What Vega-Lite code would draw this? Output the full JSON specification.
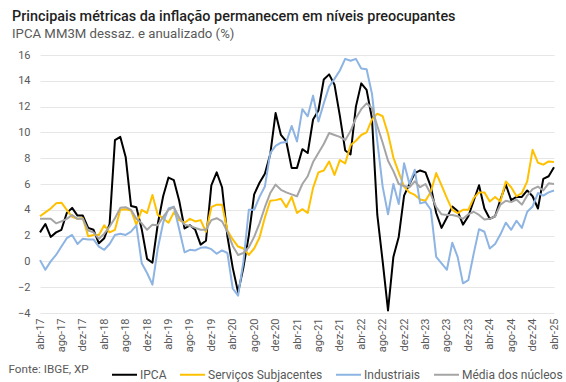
{
  "$schema": "https://vega.github.io/schema/vega-lite/v6.json",
  "width": 514,
  "height": 258,
  "autosize": {"type": "none"},
  "padding": {"left": 40, "top": 55, "right": 12, "bottom": 69},
  "background": "white",
  "config": {"view": {"stroke": null}},
  "title": {
    "text": "Principais métricas da inflação permanecem em níveis preocupantes",
    "subtitle": "IPCA MM3M dessaz. e anualizado (%)",
    "anchor": "start",
    "frame": "group",
    "dx": -28,
    "offset": 8,
    "font": "Roboto",
    "fontSize": 14.4,
    "fontWeight": 500,
    "color": "#1f1f1f",
    "subtitleFont": "Roboto",
    "subtitleFontSize": 13.2,
    "subtitleColor": "#595959",
    "subtitlePadding": 3
  },
  "data": {
    "values": [
      {"m": "abr-17", "IPCA": 2.25, "Serviços Subjacentes": 3.5, "Industriais": 0.1, "Média dos núcleos": 3.3},
      {"m": "mai-17", "IPCA": 2.9, "Serviços Subjacentes": 3.8, "Industriais": -0.65, "Média dos núcleos": 3.3},
      {"m": "jun-17", "IPCA": 1.9, "Serviços Subjacentes": 4.1, "Industriais": 0.0, "Média dos núcleos": 3.3},
      {"m": "jul-17", "IPCA": 2.25, "Serviços Subjacentes": 4.5, "Industriais": 0.5, "Média dos núcleos": 2.95},
      {"m": "ago-17", "IPCA": 2.45, "Serviços Subjacentes": 4.55, "Industriais": 1.15, "Média dos núcleos": 3.1},
      {"m": "set-17", "IPCA": 3.75, "Serviços Subjacentes": 4.0, "Industriais": 1.8, "Média dos núcleos": 3.3},
      {"m": "out-17", "IPCA": 4.15, "Serviços Subjacentes": 3.45, "Industriais": 2.05, "Média dos núcleos": 3.6},
      {"m": "nov-17", "IPCA": 3.55, "Serviços Subjacentes": 3.3, "Industriais": 1.35, "Média dos núcleos": 3.3},
      {"m": "dez-17", "IPCA": 3.55, "Serviços Subjacentes": 3.35, "Industriais": 1.75, "Média dos núcleos": 3.3},
      {"m": "jan-18", "IPCA": 2.6, "Serviços Subjacentes": 1.95, "Industriais": 1.7, "Média dos núcleos": 2.4},
      {"m": "fev-18", "IPCA": 2.45, "Serviços Subjacentes": 2.05, "Industriais": 1.7, "Média dos núcleos": 2.25},
      {"m": "mar-18", "IPCA": 1.4, "Serviços Subjacentes": 2.05, "Industriais": 1.15, "Média dos núcleos": 1.75},
      {"m": "abr-18", "IPCA": 1.8, "Serviços Subjacentes": 2.8, "Industriais": 0.9, "Média dos núcleos": 2.15},
      {"m": "mai-18", "IPCA": 2.9, "Serviços Subjacentes": 2.25, "Industriais": 1.35, "Média dos núcleos": 2.7},
      {"m": "jun-18", "IPCA": 9.4, "Serviços Subjacentes": 2.45, "Industriais": 2.05, "Média dos núcleos": 3.35},
      {"m": "jul-18", "IPCA": 9.65, "Serviços Subjacentes": 4.0, "Industriais": 2.15, "Média dos núcleos": 4.15},
      {"m": "ago-18", "IPCA": 8.1, "Serviços Subjacentes": 4.05, "Industriais": 2.05, "Média dos núcleos": 4.2},
      {"m": "set-18", "IPCA": 4.3, "Serviços Subjacentes": 3.95, "Industriais": 2.3, "Média dos núcleos": 4.0},
      {"m": "out-18", "IPCA": 4.2, "Serviços Subjacentes": 2.85, "Industriais": 2.8, "Média dos núcleos": 3.3},
      {"m": "nov-18", "IPCA": 2.5, "Serviços Subjacentes": 4.0, "Industriais": -0.15, "Média dos núcleos": 2.95},
      {"m": "dez-18", "IPCA": 0.2, "Serviços Subjacentes": 3.75, "Industriais": -0.9, "Média dos núcleos": 2.45},
      {"m": "jan-19", "IPCA": -0.1, "Serviços Subjacentes": 5.15, "Industriais": -1.8, "Média dos núcleos": 2.85},
      {"m": "fev-19", "IPCA": 2.9, "Serviços Subjacentes": 3.6, "Industriais": 1.0, "Média dos núcleos": 2.8},
      {"m": "mar-19", "IPCA": 5.05, "Serviços Subjacentes": 3.35, "Industriais": 3.0, "Média dos núcleos": 3.45},
      {"m": "abr-19", "IPCA": 6.5, "Serviços Subjacentes": 3.0, "Industriais": 4.1, "Média dos núcleos": 4.0},
      {"m": "mai-19", "IPCA": 6.3, "Serviços Subjacentes": 3.8, "Industriais": 4.25, "Média dos núcleos": 4.2},
      {"m": "jun-19", "IPCA": 4.7, "Serviços Subjacentes": 3.2, "Industriais": 2.5, "Média dos núcleos": 3.4},
      {"m": "jul-19", "IPCA": 2.55, "Serviços Subjacentes": 3.0, "Industriais": 0.7, "Média dos núcleos": 2.85},
      {"m": "ago-19", "IPCA": 2.8, "Serviços Subjacentes": 3.3, "Industriais": 0.9, "Média dos núcleos": 2.75},
      {"m": "set-19", "IPCA": 2.45, "Serviços Subjacentes": 3.1, "Industriais": 0.85, "Média dos núcleos": 2.6},
      {"m": "out-19", "IPCA": 1.3, "Serviços Subjacentes": 3.2, "Industriais": 1.05, "Média dos núcleos": 2.45},
      {"m": "nov-19", "IPCA": 1.6, "Serviços Subjacentes": 2.3, "Industriais": 1.1, "Média dos núcleos": 2.45},
      {"m": "dez-19", "IPCA": 5.9, "Serviços Subjacentes": 4.2, "Industriais": 0.95, "Média dos núcleos": 3.2},
      {"m": "jan-20", "IPCA": 6.9, "Serviços Subjacentes": 4.4, "Industriais": 0.6, "Média dos núcleos": 3.35},
      {"m": "fev-20", "IPCA": 5.75, "Serviços Subjacentes": 4.4, "Industriais": 0.85, "Média dos núcleos": 3.1},
      {"m": "mar-20", "IPCA": 1.95, "Serviços Subjacentes": 2.4, "Industriais": 0.65, "Média dos núcleos": 2.3},
      {"m": "abr-20", "IPCA": -0.5, "Serviços Subjacentes": 1.7, "Industriais": -2.1, "Média dos núcleos": 1.2},
      {"m": "mai-20", "IPCA": -2.4, "Serviços Subjacentes": 1.15, "Industriais": -2.65, "Média dos núcleos": 0.5},
      {"m": "jun-20", "IPCA": -0.45, "Serviços Subjacentes": 1.0, "Industriais": 0.0, "Média dos núcleos": 0.65},
      {"m": "jul-20", "IPCA": 2.0, "Serviços Subjacentes": 0.5, "Industriais": 4.0, "Média dos núcleos": 1.1},
      {"m": "ago-20", "IPCA": 5.2, "Serviços Subjacentes": 1.0, "Industriais": 4.0, "Média dos núcleos": 1.9},
      {"m": "set-20", "IPCA": 6.1, "Serviços Subjacentes": 1.85, "Industriais": 5.0, "Média dos núcleos": 2.95},
      {"m": "out-20", "IPCA": 6.8, "Serviços Subjacentes": 3.4, "Industriais": 5.8, "Média dos núcleos": 4.2},
      {"m": "nov-20", "IPCA": 8.3, "Serviços Subjacentes": 4.7, "Industriais": 8.4, "Média dos núcleos": 5.3},
      {"m": "dez-20", "IPCA": 11.5, "Serviços Subjacentes": 4.75, "Industriais": 8.95, "Média dos núcleos": 5.95},
      {"m": "jan-21", "IPCA": 9.8, "Serviços Subjacentes": 4.85, "Industriais": 9.2, "Média dos núcleos": 5.55},
      {"m": "fev-21", "IPCA": 9.3, "Serviços Subjacentes": 4.2, "Industriais": 9.25, "Média dos núcleos": 5.35},
      {"m": "mar-21", "IPCA": 7.25, "Serviços Subjacentes": 5.0, "Industriais": 10.5, "Média dos núcleos": 5.2},
      {"m": "abr-21", "IPCA": 7.25, "Serviços Subjacentes": 3.75, "Industriais": 9.3, "Média dos núcleos": 5.05},
      {"m": "mai-21", "IPCA": 8.7, "Serviços Subjacentes": 4.05, "Industriais": 11.8, "Média dos núcleos": 6.0},
      {"m": "jun-21", "IPCA": 8.4, "Serviços Subjacentes": 3.75, "Industriais": 11.25, "Média dos núcleos": 6.6},
      {"m": "jul-21", "IPCA": 11.0, "Serviços Subjacentes": 5.7, "Industriais": 12.85, "Média dos núcleos": 7.7},
      {"m": "ago-21", "IPCA": 11.7, "Serviços Subjacentes": 6.9, "Industriais": 10.85, "Média dos núcleos": 8.4},
      {"m": "set-21", "IPCA": 14.1, "Serviços Subjacentes": 7.05, "Industriais": 12.25, "Média dos núcleos": 9.1},
      {"m": "out-21", "IPCA": 14.5, "Serviços Subjacentes": 7.75, "Industriais": 13.55, "Média dos núcleos": 9.95},
      {"m": "nov-21", "IPCA": 13.7, "Serviços Subjacentes": 6.7, "Industriais": 14.15, "Média dos núcleos": 9.8},
      {"m": "dez-21", "IPCA": 11.3, "Serviços Subjacentes": 7.85, "Industriais": 14.8, "Média dos núcleos": 9.65},
      {"m": "jan-22", "IPCA": 8.6, "Serviços Subjacentes": 7.6, "Industriais": 15.7, "Média dos núcleos": 9.4},
      {"m": "fev-22", "IPCA": 8.3, "Serviços Subjacentes": 9.0, "Industriais": 15.55, "Média dos núcleos": 10.1},
      {"m": "mar-22", "IPCA": 12.0, "Serviços Subjacentes": 9.35, "Industriais": 15.7, "Média dos núcleos": 11.1},
      {"m": "abr-22", "IPCA": 13.8, "Serviços Subjacentes": 9.8, "Industriais": 14.95, "Média dos núcleos": 11.8},
      {"m": "mai-22", "IPCA": 13.3, "Serviços Subjacentes": 10.0, "Industriais": 14.9, "Média dos núcleos": 12.25},
      {"m": "jun-22", "IPCA": 11.1, "Serviços Subjacentes": 11.0, "Industriais": 13.0, "Média dos núcleos": 11.9},
      {"m": "jul-22", "IPCA": 3.6, "Serviços Subjacentes": 11.45, "Industriais": 9.3, "Média dos núcleos": 10.5},
      {"m": "ago-22", "IPCA": 0.0, "Serviços Subjacentes": 11.25, "Industriais": 5.8, "Média dos núcleos": 9.2},
      {"m": "set-22", "IPCA": -3.8, "Serviços Subjacentes": 9.9, "Industriais": 3.65, "Média dos núcleos": 7.8},
      {"m": "out-22", "IPCA": 0.35, "Serviços Subjacentes": 8.05, "Industriais": 6.0, "Média dos núcleos": 7.0},
      {"m": "nov-22", "IPCA": 1.9, "Serviços Subjacentes": 6.9, "Industriais": 4.45, "Média dos núcleos": 6.0},
      {"m": "dez-22", "IPCA": 5.1, "Serviços Subjacentes": 5.8, "Industriais": 7.6, "Média dos núcleos": 5.85},
      {"m": "jan-23", "IPCA": 6.0, "Serviços Subjacentes": 5.35, "Industriais": 6.0, "Média dos núcleos": 5.75},
      {"m": "fev-23", "IPCA": 6.85, "Serviços Subjacentes": 5.15, "Industriais": 7.1, "Média dos núcleos": 6.2},
      {"m": "mar-23", "IPCA": 7.05, "Serviços Subjacentes": 4.8, "Industriais": 4.5, "Média dos núcleos": 5.75},
      {"m": "abr-23", "IPCA": 6.9, "Serviços Subjacentes": 4.7, "Industriais": 4.6, "Média dos núcleos": 6.0},
      {"m": "mai-23", "IPCA": 5.8, "Serviços Subjacentes": 5.4, "Industriais": 4.0, "Média dos núcleos": 5.2},
      {"m": "jun-23", "IPCA": 3.75, "Serviços Subjacentes": 6.85, "Industriais": 0.35, "Média dos núcleos": 4.2},
      {"m": "jul-23", "IPCA": 2.6, "Serviços Subjacentes": 5.9, "Industriais": -0.15, "Média dos núcleos": 3.65},
      {"m": "ago-23", "IPCA": 3.4, "Serviços Subjacentes": 4.9, "Industriais": -0.65, "Média dos núcleos": 3.6},
      {"m": "set-23", "IPCA": 4.25, "Serviços Subjacentes": 4.0, "Industriais": 1.45, "Média dos núcleos": 3.6},
      {"m": "out-23", "IPCA": 3.9, "Serviços Subjacentes": 3.75, "Industriais": 0.35, "Média dos núcleos": 3.5},
      {"m": "nov-23", "IPCA": 2.85, "Serviços Subjacentes": 4.0, "Industriais": -1.7, "Média dos núcleos": 3.3},
      {"m": "dez-23", "IPCA": 3.5, "Serviços Subjacentes": 4.0, "Industriais": -1.45, "Média dos núcleos": 3.65},
      {"m": "jan-24", "IPCA": 4.7, "Serviços Subjacentes": 4.9, "Industriais": 0.6, "Média dos núcleos": 3.85},
      {"m": "fev-24", "IPCA": 5.9, "Serviços Subjacentes": 5.35, "Industriais": 2.5, "Média dos núcleos": 3.6},
      {"m": "mar-24", "IPCA": 4.1, "Serviços Subjacentes": 5.35, "Industriais": 2.3, "Média dos núcleos": 3.25},
      {"m": "abr-24", "IPCA": 3.3, "Serviços Subjacentes": 4.65, "Industriais": 1.0, "Média dos núcleos": 3.3},
      {"m": "mai-24", "IPCA": 3.5, "Serviços Subjacentes": 5.0, "Industriais": 1.35, "Média dos núcleos": 3.5},
      {"m": "jun-24", "IPCA": 4.8, "Serviços Subjacentes": 4.65, "Industriais": 2.1, "Média dos núcleos": 4.4},
      {"m": "jul-24", "IPCA": 5.95, "Serviços Subjacentes": 6.2, "Industriais": 3.0, "Média dos núcleos": 4.7},
      {"m": "ago-24", "IPCA": 4.75, "Serviços Subjacentes": 5.75, "Industriais": 2.45, "Média dos núcleos": 4.6},
      {"m": "set-24", "IPCA": 5.0, "Serviços Subjacentes": 5.05, "Industriais": 3.15, "Média dos núcleos": 4.8},
      {"m": "out-24", "IPCA": 5.0, "Serviços Subjacentes": 5.3, "Industriais": 2.6, "Média dos núcleos": 4.4},
      {"m": "nov-24", "IPCA": 5.5, "Serviços Subjacentes": 6.2, "Industriais": 3.85, "Média dos núcleos": 5.1},
      {"m": "dez-24", "IPCA": 5.05, "Serviços Subjacentes": 8.65, "Industriais": 4.25, "Média dos núcleos": 5.6},
      {"m": "jan-25", "IPCA": 4.1, "Serviços Subjacentes": 7.65, "Industriais": 5.3, "Média dos núcleos": 5.8},
      {"m": "fev-25", "IPCA": 6.4, "Serviços Subjacentes": 7.5, "Industriais": 5.1, "Média dos núcleos": 5.5},
      {"m": "mar-25", "IPCA": 6.6, "Serviços Subjacentes": 7.75, "Industriais": 5.35, "Média dos núcleos": 6.05},
      {"m": "abr-25", "IPCA": 7.3, "Serviços Subjacentes": 7.7, "Industriais": 5.5, "Média dos núcleos": 6.0}
    ]
  },
  "transform": [
    {"fold": ["IPCA", "Serviços Subjacentes", "Industriais", "Média dos núcleos"], "as": ["serie", "valor"]}
  ],
  "mark": {"type": "line", "strokeWidth": 2, "strokeJoin": "round"},
  "encoding": {
    "x": {
      "field": "m",
      "type": "ordinal",
      "sort": null,
      "scale": {"type": "point", "padding": 0},
      "axis": {
        "values": ["abr-17", "ago-17", "dez-17", "abr-18", "ago-18", "dez-18", "abr-19", "ago-19", "dez-19", "abr-20", "ago-20", "dez-20", "abr-21", "ago-21", "dez-21", "abr-22", "ago-22", "dez-22", "abr-23", "ago-23", "dez-23", "abr-24", "ago-24", "dez-24", "abr-25"],
        "labelAngle": -90,
        "labelAlign": "right",
        "labelBaseline": "middle",
        "labelPadding": 5,
        "labelOverlap": false,
        "ticks": false,
        "tickSize": 0,
        "domain": false,
        "grid": false,
        "labelFont": "Roboto",
        "labelFontSize": 11,
        "labelColor": "#595959",
        "title": "Fonte: IBGE, XP",
        "titleX": -32,
        "titleY": 59,
        "titleAlign": "left",
        "titleAnchor": "start",
        "titleBaseline": "alphabetic",
        "titleAngle": 0,
        "titleFont": "Roboto",
        "titleFontSize": 11.7,
        "titleFontWeight": "normal",
        "titleColor": "#595959"
      }
    },
    "y": {
      "field": "valor",
      "type": "quantitative",
      "scale": {"domain": [-4, 16], "nice": false, "zero": false},
      "axis": {
        "values": [-4, -2, 0, 2, 4, 6, 8, 10, 12, 14, 16],
        "title": null,
        "domain": false,
        "ticks": false,
        "tickSize": 0,
        "labelPadding": 10,
        "grid": true,
        "gridColor": "#E6E6E6",
        "gridWidth": 1,
        "labelFont": "Roboto",
        "labelFontSize": 11,
        "labelColor": "#595959"
      }
    },
    "color": {
      "field": "serie",
      "type": "nominal",
      "scale": {
        "domain": ["IPCA", "Serviços Subjacentes", "Industriais", "Média dos núcleos"],
        "range": ["#000000", "#FFC000", "#8DB4E2", "#A5A5A5"]
      },
      "legend": {
        "title": null,
        "orient": "none",
        "legendX": 71,
        "legendY": 306,
        "direction": "horizontal",
        "symbolType": "stroke",
        "symbolSize": 625,
        "symbolStrokeWidth": 2,
        "labelFont": "Roboto",
        "labelFontSize": 12,
        "labelColor": "#595959",
        "labelOffset": 2,
        "columnPadding": 9,
        "padding": 0
      }
    }
  }
}
